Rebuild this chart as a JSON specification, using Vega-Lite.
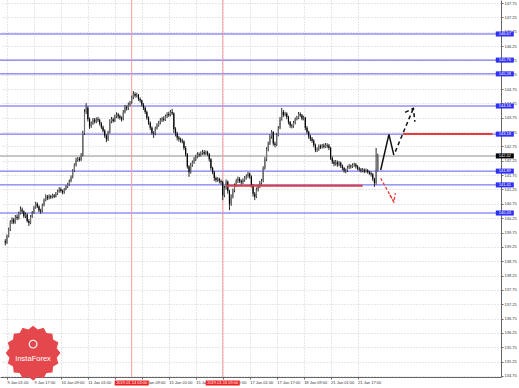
{
"$schema": "https://vega.github.io/schema/vega-lite/v6.json",
"width": 501, "height": 377, "autosize": {"type": "none"},
"padding": {"left": 0, "top": 0, "right": 18, "bottom": 11},
"background": "#ffffff",
"config": {"view": {"stroke": null}, "axis": {"labelFont": "Liberation Sans", "labelFontSize": 4, "labelColor": "#333333", "domainColor": "#666666", "tickColor": "#666666", "tickSize": 2, "gridColor": "#cfcfcf", "gridDash": [1, 2], "labelOverlap": false, "labelFlush": false}},
"datasets": {
"levels": [
{"p": 146.67, "t": "146.67", "k": "lvl"},
{"p": 145.76, "t": "145.76", "k": "lvl"},
{"p": 145.28, "t": "145.28", "k": "lvl"},
{"p": 144.16, "t": "144.16", "k": "lvl"},
{"p": 143.18, "t": "143.18", "k": "lvl"},
{"p": 141.89, "t": "141.89", "k": "lvl"},
{"p": 141.41, "t": "141.41", "k": "lvl"},
{"p": 140.43, "t": "140.43", "k": "lvl"},
{"p": 142.42, "t": "142.42", "k": "bid"}
],
"arrows": [
{"g": "a", "k": 1, "i": 221.7, "p": 141.93},
{"g": "a", "k": 2, "i": 226.6, "p": 143.17},
{"g": "a", "k": 3, "i": 229.5, "p": 142.45},
{"g": "b", "k": 1, "i": 230.4, "p": 142.57},
{"g": "b", "k": 2, "i": 241.1, "p": 144.08},
{"g": "bh", "k": 1, "i": 236.2, "p": 143.94},
{"g": "bh", "k": 2, "i": 241.1, "p": 144.08},
{"g": "bh", "k": 3, "i": 242.0, "p": 143.61},
{"g": "r", "k": 1, "i": 221.7, "p": 141.64},
{"g": "r", "k": 2, "i": 229.5, "p": 140.82},
{"g": "rh", "k": 1, "i": 227.1, "p": 141.06},
{"g": "rh", "k": 2, "i": 229.5, "p": 140.82},
{"g": "rh", "k": 3, "i": 230.4, "p": 141.12}
],
"vlines": [{"i": 74, "t": "2019.01.14 03:00"}, {"i": 128, "t": "2019.01.16 09:00"}],
"candles": [
{"i":-1,"o":139.45,"h":139.52,"l":139.30,"c":139.40},
{"i":0,"o":139.40,"h":139.68,"l":139.35,"c":139.62},
{"i":1,"o":139.62,"h":139.92,"l":139.58,"c":139.85},
{"i":2,"o":139.85,"h":140.18,"l":139.80,"c":140.12},
{"i":3,"o":140.12,"h":140.28,"l":140.05,"c":140.20},
{"i":4,"o":140.20,"h":140.26,"l":140.04,"c":140.10},
{"i":5,"o":140.10,"h":140.36,"l":140.06,"c":140.30},
{"i":6,"o":140.30,"h":140.38,"l":140.18,"c":140.25},
{"i":7,"o":140.25,"h":140.48,"l":140.20,"c":140.42},
{"i":8,"o":140.42,"h":140.66,"l":140.38,"c":140.55},
{"i":9,"o":140.55,"h":140.62,"l":140.40,"c":140.48},
{"i":10,"o":140.48,"h":140.52,"l":140.26,"c":140.32},
{"i":11,"o":140.32,"h":140.45,"l":140.25,"c":140.38},
{"i":12,"o":140.38,"h":140.42,"l":140.10,"c":140.15},
{"i":13,"o":140.15,"h":140.22,"l":139.98,"c":140.08},
{"i":14,"o":140.08,"h":140.36,"l":140.04,"c":140.30},
{"i":15,"o":140.30,"h":140.50,"l":140.26,"c":140.45},
{"i":16,"o":140.45,"h":140.68,"l":140.40,"c":140.62},
{"i":17,"o":140.62,"h":140.82,"l":140.58,"c":140.75},
{"i":18,"o":140.75,"h":140.80,"l":140.60,"c":140.66},
{"i":19,"o":140.66,"h":140.70,"l":140.46,"c":140.52},
{"i":20,"o":140.52,"h":140.58,"l":140.40,"c":140.48},
{"i":21,"o":140.48,"h":140.76,"l":140.45,"c":140.70},
{"i":22,"o":140.70,"h":140.94,"l":140.66,"c":140.88},
{"i":23,"o":140.88,"h":141.08,"l":140.84,"c":141.00},
{"i":24,"o":141.00,"h":141.06,"l":140.88,"c":140.95},
{"i":25,"o":140.95,"h":141.08,"l":140.90,"c":141.02},
{"i":26,"o":141.02,"h":141.06,"l":140.92,"c":140.98},
{"i":27,"o":140.98,"h":141.10,"l":140.94,"c":141.05},
{"i":28,"o":141.05,"h":141.09,"l":140.95,"c":141.00},
{"i":29,"o":141.00,"h":141.16,"l":140.97,"c":141.10},
{"i":30,"o":141.10,"h":141.24,"l":141.06,"c":141.18},
{"i":31,"o":141.18,"h":141.33,"l":141.14,"c":141.26},
{"i":32,"o":141.26,"h":141.32,"l":141.14,"c":141.20},
{"i":33,"o":141.20,"h":141.25,"l":141.08,"c":141.15},
{"i":34,"o":141.15,"h":141.30,"l":141.10,"c":141.25},
{"i":35,"o":141.25,"h":141.40,"l":141.22,"c":141.35},
{"i":36,"o":141.35,"h":141.48,"l":141.30,"c":141.42},
{"i":37,"o":141.42,"h":141.60,"l":141.38,"c":141.55},
{"i":38,"o":141.55,"h":141.74,"l":141.50,"c":141.68},
{"i":39,"o":141.68,"h":141.96,"l":141.64,"c":141.90},
{"i":40,"o":141.90,"h":142.16,"l":141.86,"c":142.10},
{"i":41,"o":142.10,"h":142.36,"l":142.05,"c":142.28},
{"i":42,"o":142.28,"h":142.38,"l":142.22,"c":142.32},
{"i":43,"o":142.32,"h":142.38,"l":142.22,"c":142.28},
{"i":44,"o":142.28,"h":142.52,"l":142.24,"c":142.45},
{"i":45,"o":142.45,"h":143.30,"l":142.40,"c":143.20},
{"i":46,"o":143.20,"h":144.05,"l":143.15,"c":143.95},
{"i":47,"o":143.95,"h":144.26,"l":143.88,"c":144.10},
{"i":48,"o":144.10,"h":144.15,"l":143.62,"c":143.70},
{"i":49,"o":143.70,"h":143.76,"l":143.36,"c":143.45},
{"i":50,"o":143.45,"h":143.62,"l":143.40,"c":143.55},
{"i":51,"o":143.55,"h":143.74,"l":143.50,"c":143.68},
{"i":52,"o":143.68,"h":143.74,"l":143.55,"c":143.62},
{"i":53,"o":143.62,"h":143.76,"l":143.56,"c":143.70},
{"i":54,"o":143.70,"h":143.78,"l":143.60,"c":143.66},
{"i":55,"o":143.66,"h":143.72,"l":143.48,"c":143.55},
{"i":56,"o":143.55,"h":143.60,"l":143.36,"c":143.42},
{"i":57,"o":143.42,"h":143.48,"l":143.24,"c":143.30},
{"i":58,"o":143.30,"h":143.35,"l":143.05,"c":143.12},
{"i":59,"o":143.12,"h":143.18,"l":142.90,"c":143.00},
{"i":60,"o":143.00,"h":143.30,"l":142.94,"c":143.25},
{"i":61,"o":143.25,"h":143.70,"l":143.20,"c":143.62},
{"i":62,"o":143.62,"h":143.78,"l":143.56,"c":143.70},
{"i":63,"o":143.70,"h":143.76,"l":143.58,"c":143.64},
{"i":64,"o":143.64,"h":143.86,"l":143.60,"c":143.80},
{"i":65,"o":143.80,"h":143.94,"l":143.74,"c":143.86},
{"i":66,"o":143.86,"h":143.92,"l":143.72,"c":143.80},
{"i":67,"o":143.80,"h":143.86,"l":143.68,"c":143.74},
{"i":68,"o":143.74,"h":143.80,"l":143.62,"c":143.70},
{"i":69,"o":143.70,"h":144.02,"l":143.66,"c":143.95},
{"i":70,"o":143.95,"h":144.20,"l":143.90,"c":144.12},
{"i":71,"o":144.12,"h":144.18,"l":144.00,"c":144.08},
{"i":72,"o":144.08,"h":144.28,"l":144.02,"c":144.20},
{"i":73,"o":144.20,"h":144.34,"l":144.15,"c":144.28},
{"i":74,"o":144.28,"h":144.52,"l":144.24,"c":144.45},
{"i":75,"o":144.45,"h":144.68,"l":144.40,"c":144.58},
{"i":76,"o":144.58,"h":144.64,"l":144.45,"c":144.52},
{"i":77,"o":144.52,"h":144.62,"l":144.46,"c":144.55},
{"i":78,"o":144.55,"h":144.58,"l":144.34,"c":144.40},
{"i":79,"o":144.40,"h":144.46,"l":144.28,"c":144.35},
{"i":80,"o":144.35,"h":144.38,"l":144.14,"c":144.20},
{"i":81,"o":144.20,"h":144.26,"l":144.02,"c":144.10},
{"i":82,"o":144.10,"h":144.14,"l":143.88,"c":143.95},
{"i":83,"o":143.95,"h":144.00,"l":143.68,"c":143.75},
{"i":84,"o":143.75,"h":143.80,"l":143.50,"c":143.58},
{"i":85,"o":143.58,"h":143.62,"l":143.32,"c":143.40},
{"i":86,"o":143.40,"h":143.45,"l":143.15,"c":143.22},
{"i":87,"o":143.22,"h":143.28,"l":143.05,"c":143.20},
{"i":88,"o":143.20,"h":143.44,"l":143.14,"c":143.38},
{"i":89,"o":143.38,"h":143.56,"l":143.34,"c":143.50},
{"i":90,"o":143.50,"h":143.64,"l":143.44,"c":143.58},
{"i":91,"o":143.58,"h":143.74,"l":143.52,"c":143.66},
{"i":92,"o":143.66,"h":143.78,"l":143.60,"c":143.72},
{"i":93,"o":143.72,"h":143.80,"l":143.62,"c":143.68},
{"i":94,"o":143.68,"h":143.86,"l":143.64,"c":143.80},
{"i":95,"o":143.80,"h":143.94,"l":143.74,"c":143.88},
{"i":96,"o":143.88,"h":143.96,"l":143.78,"c":143.84},
{"i":97,"o":143.84,"h":144.02,"l":143.80,"c":143.95},
{"i":98,"o":143.95,"h":144.06,"l":143.84,"c":143.90},
{"i":99,"o":143.90,"h":143.94,"l":143.22,"c":143.35},
{"i":100,"o":143.35,"h":143.42,"l":143.10,"c":143.20},
{"i":101,"o":143.20,"h":143.26,"l":142.96,"c":143.05},
{"i":102,"o":143.05,"h":143.12,"l":142.92,"c":143.00},
{"i":103,"o":143.00,"h":143.06,"l":142.88,"c":142.96},
{"i":104,"o":142.96,"h":143.02,"l":142.86,"c":142.92},
{"i":105,"o":142.92,"h":142.96,"l":142.62,"c":142.70},
{"i":106,"o":142.70,"h":142.76,"l":142.40,"c":142.48},
{"i":107,"o":142.48,"h":142.52,"l":141.98,"c":142.05},
{"i":108,"o":142.05,"h":142.10,"l":141.69,"c":141.85},
{"i":109,"o":141.85,"h":142.18,"l":141.80,"c":142.10},
{"i":110,"o":142.10,"h":142.26,"l":142.04,"c":142.20},
{"i":111,"o":142.20,"h":142.38,"l":142.14,"c":142.30},
{"i":112,"o":142.30,"h":142.46,"l":142.24,"c":142.40},
{"i":113,"o":142.40,"h":142.55,"l":142.34,"c":142.48},
{"i":114,"o":142.48,"h":142.54,"l":142.38,"c":142.44},
{"i":115,"o":142.44,"h":142.58,"l":142.40,"c":142.52},
{"i":116,"o":142.52,"h":142.63,"l":142.46,"c":142.56},
{"i":117,"o":142.56,"h":142.62,"l":142.44,"c":142.50},
{"i":118,"o":142.50,"h":142.61,"l":142.45,"c":142.55},
{"i":119,"o":142.55,"h":142.60,"l":142.42,"c":142.48},
{"i":120,"o":142.48,"h":142.52,"l":142.22,"c":142.30},
{"i":121,"o":142.30,"h":142.34,"l":141.92,"c":142.00},
{"i":122,"o":142.00,"h":142.04,"l":141.78,"c":141.85},
{"i":123,"o":141.85,"h":141.90,"l":141.55,"c":141.65},
{"i":124,"o":141.65,"h":141.70,"l":141.50,"c":141.58},
{"i":125,"o":141.58,"h":141.68,"l":141.52,"c":141.62},
{"i":126,"o":141.62,"h":141.66,"l":141.46,"c":141.55},
{"i":127,"o":141.55,"h":141.60,"l":141.42,"c":141.50},
{"i":128,"o":141.50,"h":141.55,"l":140.88,"c":141.05},
{"i":129,"o":141.05,"h":141.38,"l":140.98,"c":141.30},
{"i":130,"o":141.30,"h":141.60,"l":141.24,"c":141.52},
{"i":131,"o":141.52,"h":141.56,"l":141.10,"c":141.20},
{"i":132,"o":141.20,"h":141.24,"l":140.53,"c":140.75},
{"i":133,"o":140.75,"h":141.08,"l":140.68,"c":141.00},
{"i":134,"o":141.00,"h":141.28,"l":140.94,"c":141.22},
{"i":135,"o":141.22,"h":141.46,"l":141.15,"c":141.40},
{"i":136,"o":141.40,"h":141.62,"l":141.34,"c":141.55},
{"i":137,"o":141.55,"h":141.70,"l":141.48,"c":141.62},
{"i":138,"o":141.62,"h":141.68,"l":141.48,"c":141.55},
{"i":139,"o":141.55,"h":141.60,"l":141.42,"c":141.50},
{"i":140,"o":141.50,"h":141.64,"l":141.44,"c":141.58},
{"i":141,"o":141.58,"h":141.72,"l":141.52,"c":141.66},
{"i":142,"o":141.66,"h":141.78,"l":141.60,"c":141.72},
{"i":143,"o":141.72,"h":141.86,"l":141.66,"c":141.80},
{"i":144,"o":141.80,"h":141.84,"l":141.62,"c":141.70},
{"i":145,"o":141.70,"h":141.74,"l":141.32,"c":141.40},
{"i":146,"o":141.40,"h":141.44,"l":141.00,"c":141.10},
{"i":147,"o":141.10,"h":141.16,"l":140.88,"c":141.00},
{"i":148,"o":141.00,"h":141.32,"l":140.95,"c":141.25},
{"i":149,"o":141.25,"h":141.42,"l":141.18,"c":141.35},
{"i":150,"o":141.35,"h":141.55,"l":141.30,"c":141.48},
{"i":151,"o":141.48,"h":141.62,"l":141.42,"c":141.56},
{"i":152,"o":141.56,"h":142.06,"l":141.50,"c":142.00},
{"i":153,"o":142.00,"h":142.38,"l":141.94,"c":142.30},
{"i":154,"o":142.30,"h":142.72,"l":142.24,"c":142.65},
{"i":155,"o":142.65,"h":142.92,"l":142.58,"c":142.85},
{"i":156,"o":142.85,"h":143.18,"l":142.80,"c":143.10},
{"i":157,"o":143.10,"h":143.32,"l":143.02,"c":143.25},
{"i":158,"o":143.25,"h":143.28,"l":142.78,"c":142.85},
{"i":159,"o":142.85,"h":142.92,"l":142.72,"c":142.80},
{"i":160,"o":142.80,"h":143.22,"l":142.76,"c":143.15},
{"i":161,"o":143.15,"h":143.46,"l":143.10,"c":143.40},
{"i":162,"o":143.40,"h":143.78,"l":143.35,"c":143.70},
{"i":163,"o":143.70,"h":144.09,"l":143.65,"c":143.95},
{"i":164,"o":143.95,"h":144.02,"l":143.78,"c":143.85},
{"i":165,"o":143.85,"h":143.96,"l":143.80,"c":143.90},
{"i":166,"o":143.90,"h":143.94,"l":143.70,"c":143.78},
{"i":167,"o":143.78,"h":143.82,"l":143.52,"c":143.60},
{"i":168,"o":143.60,"h":143.64,"l":143.40,"c":143.48},
{"i":169,"o":143.48,"h":143.54,"l":143.38,"c":143.45},
{"i":170,"o":143.45,"h":143.64,"l":143.40,"c":143.58},
{"i":171,"o":143.58,"h":143.76,"l":143.52,"c":143.70},
{"i":172,"o":143.70,"h":143.82,"l":143.66,"c":143.75},
{"i":173,"o":143.75,"h":143.95,"l":143.70,"c":143.88},
{"i":174,"o":143.88,"h":143.94,"l":143.78,"c":143.84},
{"i":175,"o":143.84,"h":143.88,"l":143.66,"c":143.72},
{"i":176,"o":143.72,"h":143.82,"l":143.66,"c":143.75},
{"i":177,"o":143.75,"h":143.78,"l":143.32,"c":143.40},
{"i":178,"o":143.40,"h":143.46,"l":143.18,"c":143.25},
{"i":179,"o":143.25,"h":143.30,"l":143.02,"c":143.10},
{"i":180,"o":143.10,"h":143.16,"l":142.94,"c":143.02},
{"i":181,"o":143.02,"h":143.08,"l":142.88,"c":142.95},
{"i":182,"o":142.95,"h":143.00,"l":142.72,"c":142.80},
{"i":183,"o":142.80,"h":142.85,"l":142.55,"c":142.62},
{"i":184,"o":142.62,"h":142.72,"l":142.56,"c":142.65},
{"i":185,"o":142.65,"h":142.82,"l":142.60,"c":142.76},
{"i":186,"o":142.76,"h":142.82,"l":142.66,"c":142.72},
{"i":187,"o":142.72,"h":142.84,"l":142.68,"c":142.78},
{"i":188,"o":142.78,"h":142.85,"l":142.68,"c":142.74},
{"i":189,"o":142.74,"h":142.87,"l":142.70,"c":142.80},
{"i":190,"o":142.80,"h":142.86,"l":142.70,"c":142.78},
{"i":191,"o":142.78,"h":142.84,"l":142.62,"c":142.70},
{"i":192,"o":142.70,"h":142.74,"l":142.28,"c":142.35},
{"i":193,"o":142.35,"h":142.40,"l":142.14,"c":142.22},
{"i":194,"o":142.22,"h":142.28,"l":142.06,"c":142.15},
{"i":195,"o":142.15,"h":142.28,"l":142.08,"c":142.20},
{"i":196,"o":142.20,"h":142.26,"l":142.04,"c":142.12},
{"i":197,"o":142.12,"h":142.24,"l":142.06,"c":142.18},
{"i":198,"o":142.18,"h":142.22,"l":142.00,"c":142.08},
{"i":199,"o":142.08,"h":142.12,"l":141.92,"c":142.00},
{"i":200,"o":142.00,"h":142.04,"l":141.84,"c":141.90},
{"i":201,"o":141.90,"h":141.98,"l":141.82,"c":141.92},
{"i":202,"o":141.92,"h":142.08,"l":141.86,"c":142.02},
{"i":203,"o":142.02,"h":142.14,"l":141.96,"c":142.08},
{"i":204,"o":142.08,"h":142.12,"l":141.98,"c":142.05},
{"i":205,"o":142.05,"h":142.16,"l":142.00,"c":142.10},
{"i":206,"o":142.10,"h":142.18,"l":142.04,"c":142.12},
{"i":207,"o":142.12,"h":142.17,"l":141.98,"c":142.05},
{"i":208,"o":142.05,"h":142.10,"l":141.92,"c":141.98},
{"i":209,"o":141.98,"h":142.04,"l":141.88,"c":141.95},
{"i":210,"o":141.95,"h":142.00,"l":141.84,"c":141.90},
{"i":211,"o":141.90,"h":142.00,"l":141.85,"c":141.94},
{"i":212,"o":141.94,"h":141.98,"l":141.82,"c":141.88},
{"i":213,"o":141.88,"h":141.98,"l":141.84,"c":141.92},
{"i":214,"o":141.92,"h":141.96,"l":141.80,"c":141.86},
{"i":215,"o":141.86,"h":141.90,"l":141.76,"c":141.82},
{"i":216,"o":141.82,"h":141.88,"l":141.70,"c":141.78},
{"i":217,"o":141.78,"h":141.82,"l":141.55,"c":141.62},
{"i":218,"o":141.62,"h":141.66,"l":141.34,"c":141.48},
{"i":219,"o":141.48,"h":142.70,"l":141.42,"c":141.95},
{"i":220,"o":141.95,"h":142.50,"l":141.88,"c":142.42}
]
},
"layer": [
{
"data": {"name": "levels"},
"transform": [{"filter": "datum.k == 'bid'"}],
"mark": {"type": "rule", "color": "#c6c6c6", "strokeWidth": 2},
"encoding": {
"y": {"field": "p", "type": "quantitative", "title": null,
"scale": {"domain": [134.714, 147.855], "nice": false, "zero": false},
"axis": {"orient": "right", "grid": true, "format": ".2f", "labelPadding": 1, "labelOverlap": false, "labelBound": false, "labelFlush": false, "tickCount": 100,
"values": [134.75,135.25,135.75,136.25,136.75,137.25,137.75,138.25,138.75,139.25,139.75,140.25,140.75,141.25,141.75,142.25,142.75,143.25,143.75,144.25,144.75,145.25,145.75,146.25,146.75,147.25,147.75]}}
}
},
{
"data": {"name": "levels"},
"transform": [{"filter": "datum.k == 'lvl'"}],
"mark": {"type": "rule", "color": "#5a5af2", "strokeWidth": 1},
"encoding": {"y": {"field": "p", "type": "quantitative", "title": null}}
},
{
"data": {"name": "vlines"},
"mark": {"type": "rule", "color": "#f39a9a", "strokeWidth": 1},
"encoding": {
"x": {"field": "i", "type": "quantitative", "title": null,
"scale": {"domain": [-1.163, 290.12], "nice": false, "zero": false},
"axis": {"grid": true, "labelAlign": "left", "labelPadding": 1, "labelOverlap": false, "labelBound": false, "labelFlush": false, "tickCount": 100,
"values": [0,16,32,48,64,80,96,112,128,144,160,176,192,208],
"labelExpr": "['9 Jan 01:00','9 Jan 17:00','10 Jan 09:00','11 Jan 01:00','11 Jan 17:00','14 Jan 09:00','15 Jan 01:00','15 Jan 17:00','16 Jan 09:00','17 Jan 01:00','17 Jan 17:00','18 Jan 09:00','21 Jan 01:00','21 Jan 17:00'][datum.value/16]"}}
}
},
{
"data": {"name": "candles"},
"mark": {"type": "rule", "color": "#2a2a2a", "strokeWidth": 1},
"encoding": {
"x": {"field": "i", "type": "quantitative", "title": null},
"y": {"field": "l", "type": "quantitative", "title": null},
"y2": {"field": "h"}
}
},
{
"data": {"name": "candles"},
"mark": {"type": "bar", "size": 1.2},
"encoding": {
"x": {"field": "i", "type": "quantitative", "title": null},
"y": {"field": "o", "type": "quantitative", "title": null},
"y2": {"field": "c"},
"color": {"condition": {"test": "datum.c >= datum.o", "value": "#6e6e6e"}, "value": "#000000"}
}
},
{
"data": {"values": [{"i": 130, "i2": 211, "p": 141.38}, {"i": 235, "i2": 288, "p": 143.18}]},
"mark": {"type": "rule", "color": "#e53b3b", "strokeWidth": 2},
"encoding": {
"x": {"field": "i", "type": "quantitative", "title": null},
"x2": {"field": "i2"},
"y": {"field": "p", "type": "quantitative", "title": null}
}
},
{
"data": {"name": "arrows"},
"transform": [{"filter": "datum.g == 'a'"}],
"mark": {"type": "line", "color": "#111111", "strokeWidth": 1.5},
"encoding": {
"x": {"field": "i", "type": "quantitative", "title": null},
"y": {"field": "p", "type": "quantitative", "title": null},
"detail": {"field": "g"}, "order": {"field": "k"}
}
},
{
"data": {"name": "arrows"},
"transform": [{"filter": "datum.g == 'b' || datum.g == 'bh'"}],
"mark": {"type": "line", "color": "#111111", "strokeWidth": 1.5, "strokeDash": [4, 3]},
"encoding": {
"x": {"field": "i", "type": "quantitative", "title": null},
"y": {"field": "p", "type": "quantitative", "title": null},
"detail": {"field": "g"}, "order": {"field": "k"}
}
},
{
"data": {"name": "arrows"},
"transform": [{"filter": "datum.g == 'r' || datum.g == 'rh'"}],
"mark": {"type": "line", "color": "#ee3b3b", "strokeWidth": 1.3, "strokeDash": [3, 2]},
"encoding": {
"x": {"field": "i", "type": "quantitative", "title": null},
"y": {"field": "p", "type": "quantitative", "title": null},
"detail": {"field": "g"}, "order": {"field": "k"}
}
},
{
"data": {"name": "levels"},
"mark": {"type": "point", "shape": "M-1,-0.28L1,-0.28L1,0.28L-1,0.28Z", "size": 324, "filled": true, "opacity": 1},
"encoding": {
"x": {"datum": 295.35, "type": "quantitative"},
"y": {"field": "p", "type": "quantitative", "title": null},
"color": {"field": "k", "type": "nominal", "legend": null, "scale": {"domain": ["lvl", "bid"], "range": ["#2f2ff5", "#000000"]}}
}
},
{
"data": {"name": "levels"},
"mark": {"type": "text", "font": "Liberation Sans", "fontSize": 4, "color": "#ffffff", "align": "center", "baseline": "middle"},
"encoding": {
"x": {"datum": 295.35, "type": "quantitative"},
"y": {"field": "p", "type": "quantitative", "title": null},
"text": {"field": "t"}
}
},
{
"data": {"name": "vlines"},
"mark": {"type": "point", "shape": "M-1,-0.15L1,-0.15L1,0.15L-1,0.15Z", "size": 1156, "filled": true, "color": "#ee1c1c", "opacity": 1},
"encoding": {
"x": {"field": "i", "type": "quantitative", "title": null},
"y": {"datum": 134.505, "type": "quantitative"}
}
},
{
"data": {"name": "vlines"},
"mark": {"type": "text", "font": "Liberation Sans", "fontSize": 4, "color": "#ffffff", "align": "center", "baseline": "middle"},
"encoding": {
"x": {"field": "i", "type": "quantitative", "title": null},
"y": {"datum": 134.505, "type": "quantitative"},
"text": {"field": "t"}
}
},
{
"data": {"values": [{"name": "InstaForex"}]},
"mark": {"type": "point", "shape": "M1,0L.863,.172L.924,.383L.731,.489L.707,.707L.489,.731L.383,.924L.172,.863L0,1L-.172,.863L-.383,.924L-.489,.731L-.707,.707L-.731,.489L-.924,.383L-.863,.172L-1,0L-.863,-.172L-.924,-.383L-.731,-.489L-.707,-.707L-.489,-.731L-.383,-.924L-.172,-.863L0,-1L.172,-.863L.383,-.924L.489,-.731L.707,-.707L.731,-.489L.924,-.383L.863,-.172Z", "size": 3000, "filled": true, "color": "#e5484c", "opacity": 1},
"encoding": {
"x": {"datum": 15.5, "type": "quantitative"},
"y": {"datum": 135.55, "type": "quantitative"}
}
},
{
"data": {"values": [{"name": "InstaForex"}]},
"mark": {"type": "point", "shape": "circle", "size": 60, "filled": false, "color": "#ffffff", "strokeWidth": 1.2, "opacity": 1},
"encoding": {
"x": {"datum": 15.5, "type": "quantitative"},
"y": {"datum": 135.86, "type": "quantitative"}
}
},
{
"data": {"values": [{"name": "InstaForex"}]},
"mark": {"type": "text", "font": "Liberation Sans", "fontSize": 7.5, "color": "#ffffff", "align": "center", "baseline": "middle"},
"encoding": {
"x": {"datum": 15.5, "type": "quantitative"},
"y": {"datum": 135.34, "type": "quantitative"},
"text": {"field": "name"}
}
}
]
}
